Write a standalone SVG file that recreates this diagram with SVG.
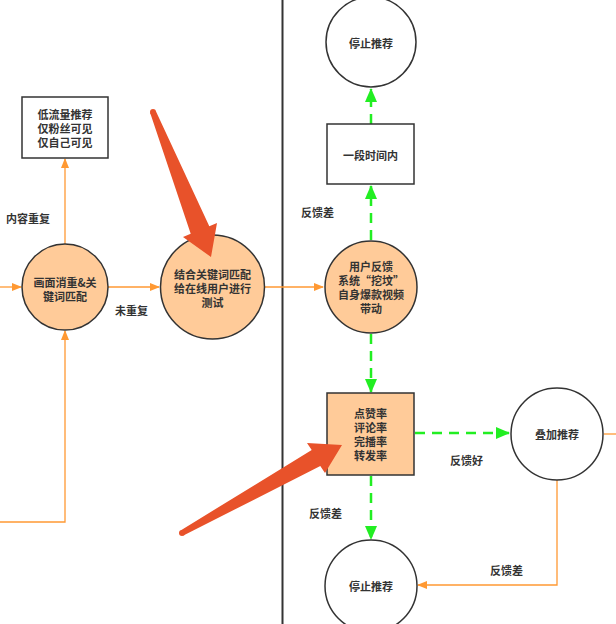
<svg xmlns="http://www.w3.org/2000/svg" width="616" height="624" viewBox="0 0 616 624">
<style>
text{font-family:"Noto Sans CJK SC","Noto Sans",sans-serif;font-size:11px;font-weight:bold;fill:#333;text-anchor:middle;dominant-baseline:central}
.lbl{text-anchor:start}
.node{stroke:#333;stroke-width:1.5}
.orange{fill:#FFCB99}
.white{fill:#fff}
.ol{fill:none;stroke:#FF9933;stroke-width:1.3}
.gl{fill:none;stroke:#22EE22;stroke-width:2.5;stroke-dasharray:10,7}
.red{fill:#E8522A}
</style>
<defs>
<marker id="ao" markerWidth="10" markerHeight="10" refX="9" refY="5" orient="auto" markerUnits="userSpaceOnUse"><path d="M0,1 L10,5 L0,9 Z" fill="#FF9933"/></marker>
<marker id="ag" markerWidth="14" markerHeight="14" refX="13" refY="7" orient="auto" markerUnits="userSpaceOnUse"><path d="M0,1 L14,7 L0,13 Z" fill="#22EE22"/></marker>
</defs>
<rect width="616" height="624" fill="#fff"/>
<line x1="282.5" y1="0" x2="282.5" y2="624" stroke="#333" stroke-width="2"/>
<g id="connectors">
<path class="ol" d="M0,287 H21" marker-end="url(#ao)"/>
<path class="ol" d="M65,244 V159" marker-end="url(#ao)"/>
<path class="ol" d="M108,287 H159" marker-end="url(#ao)"/>
<path class="ol" d="M0,522 H65 V331" marker-end="url(#ao)"/>
<path class="ol" d="M264,287 H323" marker-end="url(#ao)"/>
<path class="ol" d="M604,434 H616"/>
<path class="ol" d="M557,480 V585 H418" marker-end="url(#ao)"/>
<path class="gl" d="M371,240 V186" marker-end="url(#ag)"/>
<path class="gl" d="M371,124 V89" marker-end="url(#ag)"/>
<path class="gl" d="M371,334 V392" marker-end="url(#ag)"/>
<path class="gl" d="M415,433 H509" marker-end="url(#ag)"/>
<path class="gl" d="M371,476 V539" marker-end="url(#ag)"/>
<text class="lbl" x="6" y="218">内容重复</text>
<text class="lbl" x="115" y="310">未重复</text>
<text class="lbl" x="301" y="212">反馈差</text>
<text class="lbl" x="450" y="460">反馈好</text>
<text class="lbl" x="309" y="513">反馈差</text>
<text class="lbl" x="490" y="570">反馈差</text>
</g>
<g id="low">
<rect class="node white" x="22" y="97" width="86" height="61"/>
<text x="65" y="114">低流量推荐</text>
<text x="65" y="128">仅粉丝可见</text>
<text x="65" y="142">仅自己可见</text>
</g>
<g id="dedup">
<circle class="node orange" cx="65" cy="287" r="43"/>
<text x="65" y="282">画面消重&amp;关</text>
<text x="65" y="296">键词匹配</text>
</g>
<g id="test">
<circle class="node orange" cx="212.5" cy="287" r="52"/>
<text x="212.5" y="274">结合关键词匹配</text>
<text x="212.5" y="288">给在线用户进行</text>
<text x="212.5" y="302">测试</text>
</g>
<g id="stop1">
<circle class="node white" cx="371" cy="42" r="45"/>
<text x="371" y="43">停止推荐</text>
</g>
<g id="period">
<rect class="node white" x="327" y="124" width="87" height="60"/>
<text x="370.5" y="155">一段时间内</text>
</g>
<g id="feedback">
<circle class="node orange" cx="371" cy="287" r="46"/>
<text x="371" y="266">用户反馈</text>
<text x="371" y="280">系统“挖坟”</text>
<text x="371" y="294">自身爆款视频</text>
<text x="371" y="308">带动</text>
</g>
<g id="metrics">
<rect class="node orange" x="327" y="393" width="87" height="82"/>
<text x="370.5" y="413">点赞率</text>
<text x="370.5" y="427">评论率</text>
<text x="370.5" y="441">完播率</text>
<text x="370.5" y="455">转发率</text>
</g>
<g id="boost">
<circle class="node white" cx="557" cy="434" r="46"/>
<text x="557" y="434">叠加推荐</text>
</g>
<g id="stop2">
<circle class="node white" cx="371" cy="586" r="46"/>
<text x="371" y="586">停止推荐</text>
</g>
<g id="annotations">
<polygon class="red" points="150.2,113.1 190.7,233.7 183,237 211,257 217,223 209.3,226.3 155.8,110.9"/>
<circle class="red" cx="153" cy="112" r="3"/>
<polygon class="red" points="180.6,530.4 311.7,450.1 307,443 342,445 325,473 320.3,465.9 183.4,535.6"/>
<circle class="red" cx="182" cy="533" r="3"/>
</g>
</svg>
